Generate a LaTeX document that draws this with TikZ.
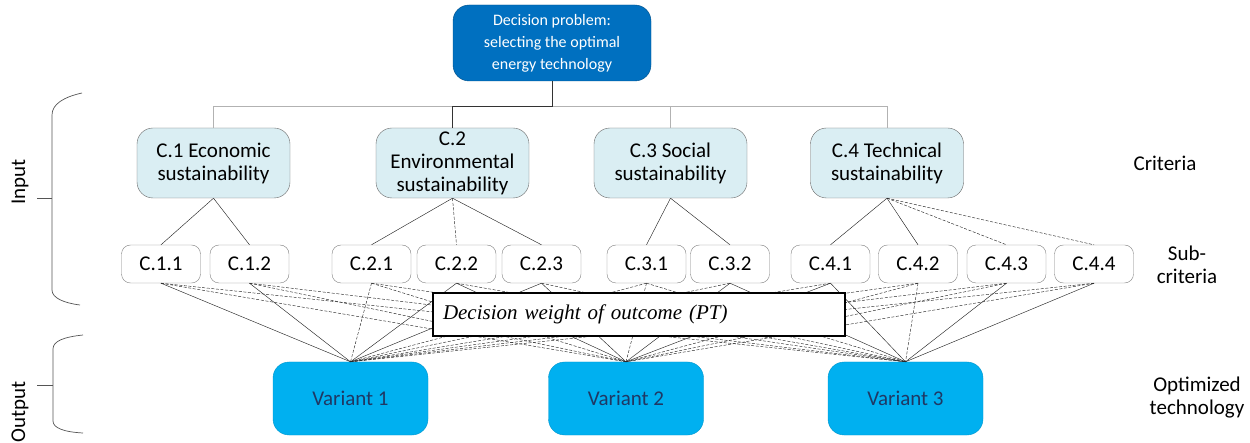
\documentclass[tikz,border=0pt]{standalone}
\usepackage{fontspec}
\setsansfont{Carlito}
\newfontfamily\weightfont{Liberation Serif}
\usetikzlibrary{calc}
\definecolor{topblue}{HTML}{0070C0}
\definecolor{critfill}{HTML}{DAEEF3}
\definecolor{varblue}{HTML}{00B0F0}
\definecolor{vartext}{HTML}{1F3864}
\definecolor{bracegray}{HTML}{555555}
\begin{document}
\begin{tikzpicture}[x=1pt,y=-1pt,
  font=\sffamily\fontsize{21}{23}\selectfont,
  every node/.style={inner sep=0pt, align=center},
  topbox/.style={fill=topblue, draw=topblue!70!black, text=white, rounded corners=16pt,
    minimum width=198pt, minimum height=76pt, font=\sffamily\fontsize{16}{22}\selectfont},
  critbox/.style={fill=critfill, draw=gray!80!black, rounded corners=16pt,
    minimum width=153pt, minimum height=70pt},
  subbox/.style={fill=white, draw=gray, rounded corners=9pt,
    minimum width=79pt, minimum height=38pt},
  varbox/.style={fill=varblue, draw=varblue!85!black, text=vartext, rounded corners=16pt,
    minimum width=155pt, minimum height=73pt},
  weightbox/.style={fill=white, draw=black, line width=1.3pt, text width=392pt, align=left,
    inner xsep=10pt, minimum height=43pt, font=\weightfont\itshape\fontsize{21}{24}\selectfont},
  treedark/.style={draw=black!80, line width=0.8pt},
  treelight/.style={draw=gray!60, line width=0.6pt},
  link/.style={draw=black!85, line width=0.45pt},
  dsh/.style={dash pattern=on 3pt off 1.6pt},
  bracestyle/.style={draw=bracegray, line width=0.7pt},
  sidelabel/.style={text=black}
]
\useasboundingbox (0,0) rectangle (1250,443);

% goal
\node[topbox] (top) at (552,43) {Decision problem:\\selecting the optimal\\energy technology};

% criteria
\node[critbox] (c1) at (213.5,163) {C.1 Economic\\sustainability};
\node[critbox] (c2) at (452.5,163) {C.2\\Environmental\\sustainability};
\node[critbox] (c3) at (670.5,163) {C.3 Social\\sustainability};
\node[critbox] (c4) at (887,163) {C.4 Technical\\sustainability};

% sub-criteria
\foreach \n/\x/\t in {s11/161/C.1.1, s12/249.5/C.1.2, s21/371.5/C.2.1, s22/456.5/C.2.2,
    s23/541.5/C.2.3, s31/646.5/C.3.1, s32/730/C.3.2, s41/830.5/C.4.1, s42/918/C.4.2,
    s43/1006.5/C.4.3, s44/1094/C.4.4}
  \node[subbox] (\n) at (\x,264) {\t};

% variants
\node[varbox] (v1) at (350.5,398.5) {Variant 1};
\node[varbox] (v2) at (626,398.5) {Variant 2};
\node[varbox] (v3) at (905.5,398.5) {Variant 3};

% tree from the goal to the criteria
\coordinate (bar) at (552,106);
\draw[treelight] (c1.north) -- (c1.north |- bar) -- (c4.north |- bar) -- (c4.north);
\draw[treelight] (c3.north) -- (c3.north |- bar);
\draw[treedark] (top.south) -- (bar) -| (c2.north);

% criteria to sub-criteria
\draw[link] (c1.south) -- (s11.north);
\draw[link] (c1.south) -- (s12.north);
\draw[link] (c2.south) -- (s21.north);
\draw[link,dsh] (c2.south) -- (s22.north);
\draw[link] (c2.south) -- (s23.north);
\draw[link] (c3.south) -- (s31.north);
\draw[link] (c3.south) -- (s32.north);
\draw[link] (c4.south) -- (s41.north);
\draw[link] (c4.south) -- (s42.north);
\draw[link,dsh] (c4.south) -- (s43.north);
\draw[link,dsh] (c4.south) -- (s44.north);

% sub-criteria to variants
\foreach \s/\v/\st in {
    s11/v1/solid, s12/v1/solid, s21/v1/dsh, s22/v1/solid, s23/v1/solid,
    s31/v1/dsh, s32/v1/dsh, s41/v1/dsh, s42/v1/dsh, s43/v1/dsh, s44/v1/dsh,
    s11/v2/dsh, s12/v2/dsh, s21/v2/dsh, s22/v2/solid, s23/v2/solid,
    s31/v2/dsh, s32/v2/solid, s41/v2/solid, s42/v2/dsh, s43/v2/dsh, s44/v2/dsh,
    s11/v3/dsh, s12/v3/dsh, s21/v3/dsh, s22/v3/dsh, s23/v3/dsh,
    s31/v3/dsh, s32/v3/solid, s41/v3/solid, s42/v3/dsh, s43/v3/solid, s44/v3/solid}
  \draw[link,\st] (\s.south) -- (\v.north);

% prospect theory weight, laid over the links
\node[weightbox] (pt) at (639,314.5) {Decision weight of outcome (PT)};

% left braces
\coordinate (inTop) at (82,93);
\coordinate (inBot) at (80,305);
\coordinate (inMid) at (52,198);
\draw[bracestyle] (inTop) .. controls (64,97) and (52,104) .. (52,115)
  -- (52,290) .. controls (52,298) and (64,303) .. (inBot);
\draw[bracestyle] (37,198) -- (inMid);
\coordinate (outTop) at (83,335);
\coordinate (outBot) at (83,433);
\coordinate (outMid) at (53,385);
\draw[bracestyle] (outTop) .. controls (64,337) and (53,341) .. (53,349)
  -- (53,421) .. controls (53,428) and (64,432) .. (outBot);
\draw[bracestyle] (37,385) -- (outMid);

\node[sidelabel, rotate=90] (lin) at (20,182) {Input};
\node[sidelabel, rotate=90] (lout) at (20,412) {Output};

% level labels
\node[sidelabel] (lcrit) at (1165,163) {Criteria};
\node[sidelabel] (lsub) at (1187,265) {Sub-\\criteria};
\node[sidelabel] (lopt) at (1197,398) {Optimized\\technology};
\end{tikzpicture}
\end{document}
